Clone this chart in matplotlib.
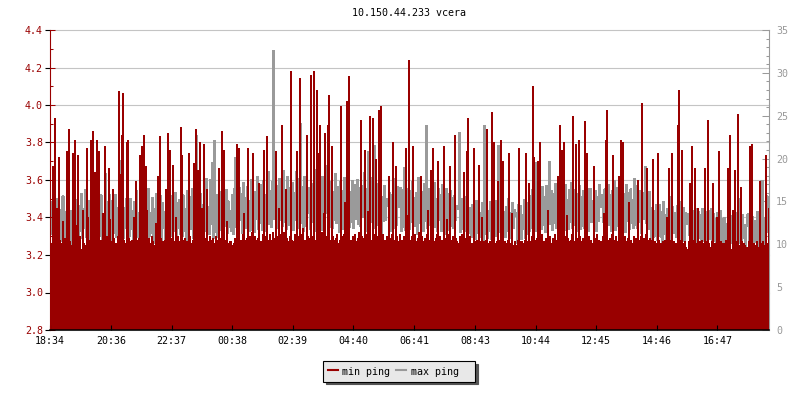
import numpy as np
import matplotlib
matplotlib.use("Agg")
import matplotlib.pyplot as plt
from matplotlib.lines import Line2D
from matplotlib.ticker import MultipleLocator, FixedLocator

plt.rcParams['font.family'] = ['DejaVu Sans Mono', 'DejaVu Sans']
plt.rcParams['font.size'] = 7.2

title = "10.150.44.233 vcera"
start_time = "18:34"
sample_minutes = 2
tick_labels = ["18:34", "20:36", "22:37", "00:38", "02:39", "04:40",
               "06:41", "08:43", "10:44", "12:45", "14:46", "16:47"]
series_labels = ["min ping", "max ping  "]

# min ping [ms], left axis, one value per 2-minute sample
min_ping = [
    # 18:34 - 20:34
    3.57, 3.26, 3.67, 3.24, 3.93, 3.27, 3.45, 3.23, 3.72, 3.28,
    3.25, 3.26, 3.38, 3.26, 3.29, 3.22, 3.75, 3.42, 3.87, 3.27,
    3.15, 3.25, 3.74, 3.28, 3.81, 3.36, 3.24, 3.73, 3.27, 3.30,
    3.23, 3.20, 3.44, 3.26, 3.24, 3.25, 3.77, 3.40, 3.28, 3.25,
    3.81, 3.52, 3.86, 3.27, 3.64, 3.24, 3.81, 3.29, 3.75, 3.26,
    3.28, 3.28, 3.42, 3.23, 3.78, 3.27, 3.30, 3.25, 3.66, 3.39,
    # 20:34 - 22:34
    3.27, 3.24, 3.55, 3.29, 3.25, 3.26, 3.26, 3.30, 4.07, 3.63,
    3.23, 3.84, 4.06, 3.28, 3.26, 3.24, 3.80, 3.81, 3.29, 3.25,
    3.27, 3.28, 3.24, 3.40, 3.22, 3.59, 3.28, 3.25, 3.29, 3.73,
    3.26, 3.78, 3.24, 3.84, 3.27, 3.67, 3.44, 3.25, 3.29, 3.23,
    3.26, 3.30, 3.27, 3.25, 3.24, 3.37, 3.28, 3.62, 3.25, 3.83,
    3.29, 3.26, 3.27, 3.24, 3.28, 3.55, 3.23, 3.85, 3.27, 3.76,
    # 22:34 - 00:34
    3.26, 3.29, 3.68, 3.24, 3.27, 3.40, 3.25, 3.30, 3.27, 3.26,
    3.88, 3.73, 3.28, 3.24, 3.29, 3.23, 3.27, 3.25, 3.74, 3.30,
    3.26, 3.24, 3.28, 3.69, 3.26, 3.87, 3.27, 3.65, 3.25, 3.80,
    3.28, 3.45, 3.24, 3.79, 3.29, 3.26, 3.55, 3.23, 3.27, 3.30,
    3.28, 3.25, 3.29, 3.14, 3.26, 3.30, 3.24, 3.28, 3.66, 3.25,
    3.29, 3.86, 3.27, 3.76, 3.24, 3.28, 3.38, 3.25, 3.26, 3.27,
    # 00:34 - 02:34
    3.27, 3.25, 3.12, 3.26, 3.29, 3.26, 3.79, 3.30, 3.77, 3.27,
    3.28, 3.24, 3.31, 3.42, 3.28, 3.26, 3.29, 3.77, 3.25, 3.30,
    3.27, 3.32, 3.74, 3.26, 3.30, 3.28, 3.25, 3.29, 3.58, 3.27,
    3.26, 3.27, 3.31, 3.76, 3.27, 3.30, 3.83, 3.28, 3.25, 3.31,
    3.28, 3.27, 3.32, 3.26, 3.29, 3.75, 3.30, 3.25, 3.45, 3.31,
    3.28, 3.89, 3.26, 3.32, 3.27, 3.55, 3.29, 3.26, 3.27, 3.30,
    # 02:34 - 04:34
    4.18, 3.28, 3.27, 3.26, 3.31, 3.27, 3.75, 3.29, 3.30, 4.14,
    3.27, 3.31, 3.34, 3.26, 3.28, 3.26, 3.84, 3.30, 3.13, 3.29,
    4.16, 3.27, 3.30, 4.18, 3.28, 3.26, 4.08, 3.31, 3.74, 3.89,
    3.29, 3.32, 3.27, 3.42, 3.85, 3.23, 3.30, 3.89, 4.05, 3.28,
    3.26, 3.78, 3.30, 3.27, 3.28, 3.29, 3.31, 3.26, 3.26, 3.28,
    3.99, 3.30, 3.27, 3.31, 3.48, 3.29, 4.02, 3.84, 4.15, 3.28,
    # 04:34 - 06:34
    3.28, 3.27, 3.30, 3.26, 3.31, 3.27, 3.26, 3.29, 3.32, 3.27,
    3.92, 3.30, 3.26, 3.29, 3.76, 3.31, 3.27, 3.43, 3.30, 3.94,
    3.28, 3.26, 3.93, 3.31, 3.29, 3.71, 3.26, 3.30, 3.97, 3.28,
    3.99, 3.27, 3.31, 3.27, 3.28, 3.26, 3.30, 3.19, 3.62, 3.29,
    3.27, 3.31, 3.80, 3.28, 3.26, 3.67, 3.30, 3.27, 3.17, 3.31,
    3.28, 3.28, 3.26, 3.30, 3.27, 3.77, 3.29, 3.41, 4.24, 3.28,
    # 06:34 - 08:34
    3.28, 3.30, 3.78, 3.26, 3.31, 3.27, 3.27, 3.29, 3.32, 3.26,
    3.62, 3.30, 3.27, 3.26, 3.29, 3.25, 3.31, 3.44, 3.28, 3.26,
    3.65, 3.30, 3.77, 3.27, 3.25, 3.29, 3.31, 3.70, 3.26, 3.30,
    3.28, 3.28, 3.25, 3.78, 3.29, 3.27, 3.39, 3.31, 3.26, 3.67,
    3.28, 3.25, 3.30, 3.27, 3.84, 3.29, 3.27, 3.26, 3.18, 3.30,
    3.27, 3.31, 3.26, 3.64, 3.29, 3.25, 3.75, 3.93, 3.28, 3.30,
    # 08:34 - 10:34
    3.26, 3.26, 3.24, 3.77, 3.27, 3.23, 3.28, 3.25, 3.68, 3.22,
    3.27, 3.40, 3.25, 3.27, 3.23, 3.28, 3.87, 3.24, 3.26, 3.27,
    3.23, 3.96, 3.28, 3.80, 3.24, 3.26, 3.27, 3.59, 3.23, 3.28,
    3.81, 3.25, 3.70, 3.20, 3.27, 3.24, 3.26, 3.28, 3.74, 3.23,
    3.26, 3.42, 3.24, 3.25, 3.27, 3.25, 3.19, 3.28, 3.77, 3.24,
    3.27, 3.27, 3.23, 3.26, 3.28, 3.74, 3.24, 3.27, 3.58, 3.25,
    # 10:34 - 12:34
    3.27, 3.30, 4.10, 3.72, 3.28, 3.25, 3.29, 3.70, 3.26, 3.80,
    3.28, 3.31, 3.27, 3.27, 3.25, 3.29, 3.26, 3.44, 3.28, 3.30,
    3.26, 3.26, 3.29, 3.27, 3.31, 3.25, 3.28, 3.62, 3.26, 3.89,
    3.29, 3.76, 3.25, 3.80, 3.30, 3.27, 3.41, 3.29, 3.27, 3.26,
    3.28, 3.31, 3.94, 3.27, 3.25, 3.79, 3.29, 3.26, 3.81, 3.30,
    3.27, 3.25, 3.29, 3.28, 3.91, 3.28, 3.74, 3.26, 3.30, 3.27,
    # 12:34 - 14:34
    3.28, 3.26, 3.15, 3.67, 3.29, 3.27, 3.31, 3.25, 3.28, 3.27,
    3.09, 3.27, 3.30, 3.42, 3.26, 3.81, 3.97, 3.28, 3.25, 3.29,
    3.27, 3.31, 3.73, 3.26, 3.28, 3.30, 3.25, 3.27, 3.62, 3.29,
    3.81, 3.26, 3.80, 3.28, 3.30, 3.25, 3.27, 3.29, 3.48, 3.26,
    3.28, 3.26, 3.25, 3.30, 3.27, 3.29, 3.26, 3.60, 3.28, 3.25,
    3.30, 4.01, 3.27, 3.29, 3.26, 3.31, 3.66, 3.28, 3.25, 3.29,
    # 14:34 - 16:34
    3.25, 3.28, 3.71, 3.23, 3.27, 3.26, 3.24, 3.74, 3.28, 3.22,
    3.26, 3.25, 3.27, 3.24, 3.28, 3.25, 3.40, 3.27, 3.66, 3.23,
    3.28, 3.74, 3.25, 3.27, 3.20, 3.26, 3.24, 3.89, 4.08, 3.26,
    3.28, 3.76, 3.25, 3.26, 3.27, 3.24, 3.23, 3.09, 3.27, 3.58,
    3.24, 3.78, 3.28, 3.25, 3.66, 3.26, 3.22, 3.45, 3.27, 3.24,
    3.27, 3.28, 3.25, 3.26, 3.66, 3.23, 3.27, 3.92, 3.26, 3.24,
    # 16:34 - 18:30
    3.24, 3.27, 3.58, 3.22, 3.26, 3.24, 3.40, 3.21, 3.75, 3.25,
    3.27, 3.26, 3.23, 3.26, 3.22, 3.28, 3.24, 3.66, 3.26, 3.84,
    3.23, 3.21, 3.44, 3.26, 3.65, 3.24, 3.27, 3.95, 3.22, 3.25,
    3.56, 3.27, 3.23, 3.26, 3.25, 3.21, 3.24, 3.16, 3.27, 3.78,
    3.25, 3.79, 3.22, 3.26, 3.25, 3.23, 3.27, 3.15, 3.24, 3.59,
    3.26, 3.22, 3.27, 3.25, 3.23, 3.73, 3.26, 3.45,
]

# max ping [ms], right axis, one value per 2-minute sample
max_ping = [
    # 18:34 - 20:34
    12.1, 14.6, 11.2, 15.0, 18.4, 13.9, 11.4, 15.3, 10.1, 14.0,
    11.8, 13.2, 10.4, 15.6, 10.8, 13.8, 11.5, 14.7, 10.2, 9.6,
    8.3, 13.9, 11.1, 14.8, 10.5, 15.2, 11.0, 13.4, 10.3, 14.5,
    11.6, 15.9, 10.7, 14.1, 11.9, 16.3, 10.9, 13.7, 11.3, 15.1,
    10.6, 14.4, 11.7, 16.0, 10.8, 13.6, 11.2, 15.4, 9.8, 14.2,
    11.0, 15.7, 10.5, 13.5, 11.8, 18.2, 10.9, 14.9, 11.4, 15.8,
    # 20:34 - 22:34
    11.6, 15.0, 10.4, 14.4, 11.3, 15.8, 10.8, 14.2, 11.7, 13.5,
    19.7, 12.1, 15.8, 10.7, 14.2, 11.9, 15.3, 10.6, 14.0, 10.9,
    15.3, 11.8, 13.9, 10.3, 14.9, 11.4, 16.2, 10.8, 13.7, 11.3,
    15.5, 10.5, 14.6, 11.6, 15.1, 10.2, 14.0, 11.5, 16.5, 10.9,
    13.6, 11.3, 15.4, 10.1, 14.1, 11.7, 15.9, 10.8, 14.2, 11.2,
    15.6, 10.4, 14.8, 11.9, 13.8, 10.6, 15.2, 11.1, 14.5, 10.7,
    # 22:34 - 00:34
    12.4, 15.6, 11.0, 14.3, 11.6, 16.0, 10.6, 14.8, 11.9, 15.2,
    11.2, 14.6, 10.9, 15.7, 11.5, 14.1, 10.4, 16.2, 11.3, 14.9,
    15.5, 11.8, 16.4, 10.7, 14.3, 11.8, 22.7, 12.3, 16.4, 11.0,
    15.9, 12.1, 14.6, 10.5, 16.8, 11.6, 17.6, 12.9, 14.3, 11.2,
    17.5, 12.4, 19.5, 10.7, 22.1, 11.4, 15.8, 10.9, 14.7, 12.0,
    16.1, 11.7, 15.9, 10.8, 14.5, 12.1, 16.3, 11.3, 15.0, 12.0,
    # 00:34 - 02:34
    13.9, 11.5, 15.8, 11.2, 16.4, 20.1, 12.0, 15.5, 11.7, 16.6,
    12.8, 15.9, 11.3, 17.2, 12.4, 15.4, 11.9, 16.7, 12.2, 15.1,
    11.6, 17.5, 12.7, 15.6, 11.4, 16.1, 12.9, 17.8, 11.8, 15.3,
    12.5, 16.9, 11.7, 17.4, 12.3, 15.8, 11.6, 16.5, 18.4, 12.4,
    16.2, 12.0, 17.3, 32.5, 13.0, 19.2, 12.6, 16.8, 11.9, 17.6,
    12.8, 16.4, 12.1, 18.6, 12.6, 16.0, 11.8, 17.9, 12.2, 16.3,
    # 02:34 - 04:34
    16.6, 12.1, 17.2, 11.7, 16.0, 12.8, 18.4, 11.9, 15.3, 17.6,
    24.0, 12.5, 16.7, 11.6, 17.8, 12.1, 16.3, 13.6, 14.2, 16.6,
    11.8, 17.0, 12.6, 15.2, 18.7, 11.5, 16.3, 12.4, 17.8, 12.0,
    16.9, 11.7, 17.8, 12.4, 15.9, 13.6, 16.4, 19.1, 12.4, 17.2,
    12.0, 17.3, 11.9, 16.1, 12.8, 18.2, 12.5, 15.1, 16.7, 11.4,
    17.3, 12.0, 16.2, 11.8, 17.7, 12.5, 16.6, 11.9, 17.7, 12.0,
    # 04:34 - 06:34
    16.1, 12.6, 17.4, 11.9, 16.9, 13.0, 15.2, 17.5, 12.4, 16.6,
    12.1, 16.8, 13.2, 15.7, 18.3, 12.0, 16.4, 11.5, 20.8, 13.1,
    16.3, 12.6, 17.7, 11.9, 21.5, 12.6, 15.9, 12.2, 17.0, 12.4,
    17.2, 11.3, 15.5, 12.7, 16.8, 12.8, 15.3, 14.5, 14.9, 16.0,
    11.6, 15.8, 12.1, 17.6, 11.9, 16.4, 12.3, 16.7, 14.8, 14.4,
    16.6, 11.5, 16.3, 12.0, 18.9, 11.7, 16.1, 12.6, 16.5, 11.8,
    # 06:34 - 08:34
    16.2, 12.6, 17.3, 12.8, 15.4, 12.1, 16.0, 11.2, 17.7, 12.5,
    15.8, 12.4, 16.1, 11.5, 17.0, 12.7, 23.8, 11.9, 16.5, 12.3,
    15.1, 11.8, 16.6, 12.7, 17.2, 12.0, 15.3, 11.6, 16.4, 12.8,
    15.8, 11.6, 16.9, 12.0, 15.4, 11.2, 16.5, 12.3, 15.9, 11.7,
    16.2, 12.1, 15.4, 11.9, 15.6, 12.8, 14.5, 14.1, 14.4, 23.0,
    11.4, 15.3, 11.8, 14.1, 11.6, 15.5, 11.8, 14.0, 11.3, 14.2,
    # 08:34 - 10:34
    13.9, 10.8, 14.6, 11.2, 13.8, 10.6, 15.1, 11.3, 14.2, 10.9,
    13.7, 11.1, 14.8, 10.4, 23.8, 11.2, 14.4, 10.7, 13.9, 11.5,
    14.9, 10.6, 14.0, 11.4, 13.3, 15.0, 11.0, 14.1, 21.5, 11.4,
    14.7, 10.5, 14.1, 12.9, 13.8, 10.8, 14.4, 11.5, 15.3, 11.0,
    13.6, 10.7, 14.8, 11.9, 14.0, 13.3, 13.6, 10.2, 14.6, 11.0,
    14.5, 10.6, 13.4, 11.8, 15.2, 10.7, 14.8, 11.2, 14.3, 11.5,
    # 10:34 - 12:34
    15.6, 11.9, 16.3, 12.2, 15.1, 11.6, 19.5, 12.0, 16.4, 12.9,
    15.2, 11.8, 16.7, 12.3, 15.5, 11.4, 16.8, 12.6, 15.0, 19.6,
    12.4, 16.2, 11.7, 15.9, 12.5, 17.0, 11.9, 15.4, 12.8, 16.6,
    11.5, 16.1, 12.2, 15.8, 11.7, 16.9, 12.4, 15.2, 11.8, 16.3,
    12.6, 17.1, 11.9, 15.6, 12.3, 16.4, 11.6, 15.9, 12.7, 16.8,
    11.8, 15.5, 12.1, 16.2, 11.9, 17.2, 12.4, 15.7, 11.6, 16.5,
    # 12:34 - 14:34
    16.4, 12.6, 14.8, 15.1, 12.0, 16.2, 11.5, 15.5, 12.7, 16.9,
    14.8, 14.3, 15.8, 12.6, 16.4, 11.9, 15.7, 12.3, 16.9, 12.2,
    15.8, 11.5, 16.2, 12.0, 17.4, 11.7, 16.6, 12.1, 15.3, 12.9,
    15.6, 11.6, 16.1, 12.3, 15.9, 11.4, 16.9, 12.7, 16.0, 11.8,
    16.4, 12.5, 15.2, 11.9, 17.6, 12.3, 16.8, 11.9, 15.4, 12.6,
    16.2, 11.3, 15.7, 12.9, 16.0, 19.0, 12.5, 15.4, 11.8, 16.1,
    # 14:34 - 16:34
    13.6, 10.4, 14.3, 10.8, 13.9, 11.0, 14.6, 10.5, 13.2, 14.6,
    10.9, 13.8, 10.3, 14.9, 11.2, 13.4, 10.6, 14.1, 10.8, 15.5,
    10.6, 13.0, 14.4, 11.3, 13.7, 13.2, 10.8, 14.5, 11.3, 13.8,
    10.6, 14.9, 11.4, 14.2, 10.4, 13.6, 12.4, 13.5, 12.9, 11.1,
    14.6, 10.2, 13.7, 10.5, 13.9, 10.3, 14.1, 9.7, 13.8, 10.7,
    13.4, 9.8, 14.1, 10.4, 13.3, 10.8, 13.8, 9.4, 13.9, 10.6,
    # 16:34 - 18:30
    11.2, 14.1, 9.6, 13.5, 10.4, 12.9, 9.3, 13.7, 10.8, 12.2,
    13.9, 9.9, 13.0, 10.3, 13.1, 9.7, 12.4, 10.6, 13.8, 9.1,
    12.7, 10.2, 13.3, 9.9, 12.8, 10.5, 13.6, 9.4, 15.3, 10.2,
    12.6, 9.8, 13.4, 10.7, 12.3, 9.5, 12.1, 13.5, 12.8, 10.0,
    16.5, 10.6, 13.2, 9.2, 12.7, 10.3, 12.5, 13.8, 13.1, 9.6,
    12.2, 17.4, 10.3, 13.1, 9.6, 12.8, 15.6, 11.4,
]

RED = '#990000'
GRAY = '#9a9a9a'
GRID = '#c4c4c4'


def minutes_after_start(t):
    h, m = map(int, t.split(':'))
    sh, sm = map(int, start_time.split(':'))
    return ((h * 60 + m) - (sh * 60 + sm)) % 1440


tick_pos = [minutes_after_start(t) for t in tick_labels]
n_min = len(min_ping)
edges = np.arange(n_min + 1) * sample_minutes
x_max = np.arange(len(max_ping)) * sample_minutes + sample_minutes / 2
x_end = n_min * sample_minutes

fig = plt.figure(figsize=(8, 4), dpi=100)
rect = [50 / 800, 70 / 400, 719 / 800, 300 / 400]

# base axes: horizontal grid only
ax = fig.add_axes(rect)
ax.set_xlim(0, x_end)
ax.set_ylim(2.8, 4.4)
ax.yaxis.set_major_locator(MultipleLocator(0.2))
ax.grid(axis='y', color=GRID, lw=0.8)
ax.grid(axis='x', visible=False)
ax.tick_params(left=False, labelleft=False, bottom=False, labelbottom=False,
               right=False, labelright=False)
for s in ax.spines.values():
    s.set_visible(False)
for gl in ax.get_ygridlines():
    gl.set_clip_on(False)

# max ping (right axis), drawn beneath the min ping area
axg = ax.twinx()
axg.set_ylim(0, 35)
axg.plot(x_max, max_ping, drawstyle='steps-pre', color=GRAY, lw=0.75,
         antialiased=False)
axg.yaxis.set_major_locator(MultipleLocator(5))
axg.yaxis.set_minor_locator(MultipleLocator(1))
axg.tick_params(axis='y', which='major', direction='in', length=4.8, width=0.75,
                color=GRAY, labelcolor='#999999', pad=5)
axg.tick_params(axis='y', which='minor', direction='in', length=2.4, width=0.75,
                color=GRAY)
for k, s in axg.spines.items():
    s.set_visible(k == 'right')
axg.spines['right'].set_color(GRAY)
axg.spines['right'].set_linewidth(0.8)

# min ping (left axis) area on top
axr = ax.twinx()
axr.set_xlim(0, x_end)
axr.set_ylim(2.8, 4.4)
axr.stairs(min_ping, edges, baseline=0, fill=True, color=RED, lw=0,
           antialiased=False)
axr.yaxis.tick_left()
axr.yaxis.set_label_position('left')
axr.xaxis.set_visible(True)
axr.yaxis.set_major_locator(MultipleLocator(0.2))
axr.yaxis.set_minor_locator(MultipleLocator(0.1))
axr.tick_params(axis='y', which='major', direction='in', length=3.6, width=0.75,
                color=RED, labelcolor=RED, pad=5, left=True, labelleft=True,
                right=False, labelright=False)
axr.tick_params(axis='y', which='minor', direction='in', length=2.2, width=0.75,
                color=RED, left=True, right=False)
axr.xaxis.set_major_locator(FixedLocator(tick_pos))
axr.set_xticklabels(tick_labels)
axr.tick_params(axis='x', which='major', direction='in', length=3.4, width=0.8,
                color='black', labelcolor='black', pad=4, bottom=True,
                labelbottom=True, top=False)
for k, s in axr.spines.items():
    s.set_visible(k in ('left', 'bottom'))
axr.spines['left'].set_color(RED)
axr.spines['left'].set_linewidth(0.8)
axr.spines['bottom'].set_color('black')
axr.spines['bottom'].set_linewidth(1.1)

fig.text(409.5 / 800, 1 - 13 / 400, title, ha='center', va='center',
         color='black', fontsize=7.2)

handles = [Line2D([], [], color=RED, lw=1.5),
           Line2D([], [], color='#999999', lw=1.5)]
leg = fig.legend(handles=handles, labels=series_labels, loc='center',
                 bbox_to_anchor=(399.2 / 800, 1 - 371.3 / 400),
                 bbox_transform=fig.transFigure, ncol=2, frameon=True,
                 fancybox=False, facecolor='#e8e8e8', edgecolor='black',
                 framealpha=1,
                 shadow={'facecolor': '#555555', 'edgecolor': '#555555',
                         'alpha': 1},
                 handlelength=1.0, handletextpad=0.44, columnspacing=0.64,
                 borderpad=0.46, handleheight=1.4, borderaxespad=0,
                 fontsize=7.2)
leg.get_frame().set_linewidth(0.8)

fig.savefig('out.png', dpi=100)
